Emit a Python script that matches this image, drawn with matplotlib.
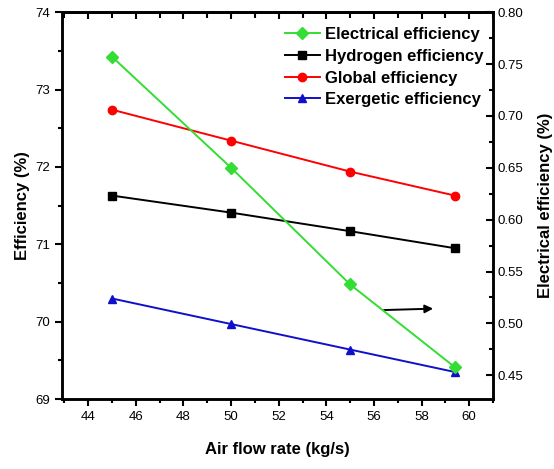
import matplotlib
matplotlib.use('Agg')
import matplotlib.pyplot as plt
from matplotlib.ticker import MultipleLocator

plt.rcParams['font.family'] = ['Liberation Sans', 'DejaVu Sans']

# air flow rate (kg/s)
air_flow = [45, 50, 55, 59.4]
# left axis (%)
hydrogen_eff = [71.63, 71.41, 71.17, 70.95]
global_eff = [72.74, 72.34, 71.94, 71.63]
exergetic_eff = [70.30, 69.97, 69.64, 69.35]
# right axis (%)
electrical_eff = [0.757, 0.650, 0.5375, 0.4577]

fig = plt.figure(figsize=(5.54, 4.69), dpi=100)
ax = fig.add_axes([0.112, 0.149, 0.778, 0.825])
ax2 = ax.twinx()

l_el, = ax2.plot(air_flow, electrical_eff, color='#33dd33', marker='D', markersize=6,
                 lw=1.4, label='Electrical efficiency')
l_h, = ax.plot(air_flow, hydrogen_eff, color='black', marker='s', markersize=6,
               lw=1.4, label='Hydrogen efficiency')
l_g, = ax.plot(air_flow, global_eff, color='red', marker='o', markersize=6,
               lw=1.4, label='Global efficiency')
l_ex, = ax.plot(air_flow, exergetic_eff, color='#1010cc', marker='^', markersize=6,
                lw=1.4, label='Exergetic efficiency')

# arrow pointing to the right axis
ax.annotate('', xy=(58.6, 70.17), xytext=(56.3, 70.15),
            arrowprops=dict(arrowstyle='-|>', color='black', lw=1.4, mutation_scale=12))

ax.set_xlim(42.9, 61)
ax.set_ylim(69, 74)
ax2.set_ylim(0.427, 0.80)

ax.xaxis.set_major_locator(MultipleLocator(2))
ax.xaxis.set_minor_locator(MultipleLocator(1))
ax.yaxis.set_major_locator(MultipleLocator(1))
ax.yaxis.set_minor_locator(MultipleLocator(0.5))
ax2.yaxis.set_major_locator(MultipleLocator(0.05))
ax2.yaxis.set_minor_locator(MultipleLocator(0.025))
ax2.yaxis.set_major_formatter(plt.FormatStrFormatter('%.2f'))

ax.tick_params(axis='both', which='both', direction='out', labelsize=9.5, width=1.5)
ax.tick_params(axis='both', which='major', length=5)
ax.tick_params(axis='both', which='minor', length=3)
ax2.tick_params(axis='y', which='both', direction='in', labelsize=9.5, width=1.5)
ax2.tick_params(axis='y', which='major', length=5)
ax2.tick_params(axis='y', which='minor', length=3)

# top ticks pointing inward, no labels
top = ax.secondary_xaxis('top')
top.xaxis.set_major_locator(MultipleLocator(2))
top.xaxis.set_minor_locator(MultipleLocator(1))
top.tick_params(axis='x', which='both', direction='in', labeltop=False, width=1.5)
top.tick_params(axis='x', which='major', length=5)
top.tick_params(axis='x', which='minor', length=4)

for a in (ax, ax2, top):
    for s in a.spines.values():
        s.set_linewidth(1.8)

ax.set_xlabel('Air flow rate (kg/s)', fontsize=12, fontweight='bold', labelpad=14)
ax.set_ylabel('Efficiency (%)', fontsize=12, fontweight='bold', labelpad=4)
ax2.set_ylabel('Electrical efficiency (%)', fontsize=12, fontweight='bold', labelpad=10)

ax.legend(handles=[l_el, l_h, l_g, l_ex], loc='upper right', frameon=False,
          bbox_to_anchor=(1.012, 1.0),
          handlelength=2.1, handletextpad=0.3, labelspacing=0.4,
          borderaxespad=0.5, prop={'weight': 'bold', 'size': 12})

fig.savefig('out.png', dpi=100)
